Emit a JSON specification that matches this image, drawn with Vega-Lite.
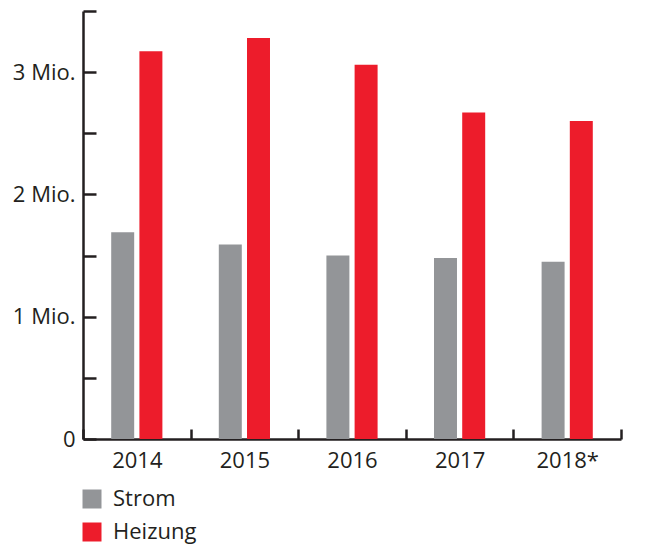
{
  "$schema": "https://vega.github.io/schema/vega-lite/v6.json",
  "width": 538,
  "height": 428,
  "autosize": "none",
  "padding": {"left": 83, "top": 11, "right": 26, "bottom": 120},
  "background": "white",
  "config": {
    "view": {"stroke": null},
    "font": "Open Sans"
  },
  "data": {
    "values": [
      {"Jahr": "2014", "Art": "Strom", "Wert": 1.69},
      {"Jahr": "2014", "Art": "Heizung", "Wert": 3.17},
      {"Jahr": "2015", "Art": "Strom", "Wert": 1.59},
      {"Jahr": "2015", "Art": "Heizung", "Wert": 3.28},
      {"Jahr": "2016", "Art": "Strom", "Wert": 1.50},
      {"Jahr": "2016", "Art": "Heizung", "Wert": 3.06},
      {"Jahr": "2017", "Art": "Strom", "Wert": 1.48},
      {"Jahr": "2017", "Art": "Heizung", "Wert": 2.67},
      {"Jahr": "2018*", "Art": "Strom", "Wert": 1.45},
      {"Jahr": "2018*", "Art": "Heizung", "Wert": 2.60}
    ]
  },
  "mark": {"type": "bar"},
  "encoding": {
    "x": {
      "field": "Jahr",
      "type": "nominal",
      "sort": null,
      "scale": {"paddingInner": 0, "paddingOuter": 0},
      "axis": {
        "title": null,
        "labelAngle": 0,
        "labelFontSize": 22,
        "labelColor": "#231f20",
        "labelPadding": 21,
        "domainColor": "#231f20",
        "domainWidth": 2.5,
        "tickColor": "#231f20",
        "tickWidth": 2.5,
        "tickSize": -10,
        "tickBand": "extent",
        "grid": false
      }
    },
    "xOffset": {
      "field": "Art",
      "type": "nominal",
      "sort": ["Strom", "Heizung"],
      "scale": {"paddingInner": 0.185, "paddingOuter": 1.085}
    },
    "y": {
      "field": "Wert",
      "type": "quantitative",
      "scale": {"domain": [0, 3.5], "nice": false},
      "axis": {
        "title": null,
        "values": [0, 0.5, 1, 1.5, 2, 2.5, 3, 3.5],
        "labelExpr": "datum.value == 0 ? '0' : (datum.value % 1 == 0 ? datum.value + ' Mio.' : '')",
        "labelFontSize": 22,
        "labelColor": "#231f20",
        "labelPadding": 21,
        "domainColor": "#231f20",
        "domainWidth": 2.5,
        "tickColor": "#231f20",
        "tickWidth": 2.5,
        "tickSize": -13,
        "grid": false
      }
    },
    "color": {
      "field": "Art",
      "type": "nominal",
      "sort": ["Strom", "Heizung"],
      "scale": {"domain": ["Strom", "Heizung"], "range": ["#939598", "#ed1c2b"]},
      "legend": {
        "title": null,
        "orient": "none",
        "legendX": -2,
        "legendY": 477,
        "direction": "vertical",
        "symbolType": "square",
        "symbolSize": 361,
        "symbolStrokeWidth": 0,
        "symbolOpacity": 1,
        "labelFontSize": 22,
        "labelColor": "#231f20",
        "labelOffset": 10,
        "rowPadding": 11
      }
    }
  }
}
